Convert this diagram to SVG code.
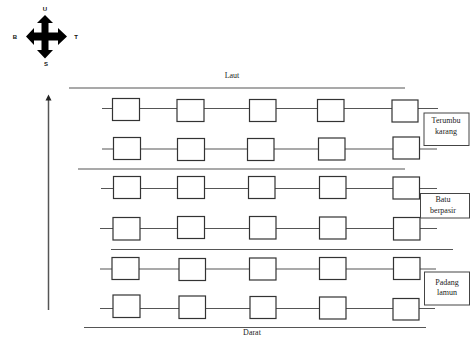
<svg xmlns="http://www.w3.org/2000/svg" width="470" height="338" viewBox="0 0 470 338">
  <style>
    .bg { fill: #ffffff; }
    .rule { stroke: #555555; stroke-width: 1.2; fill: none; }
    .link { stroke: #555555; stroke-width: 1.2; fill: none; }
    .plot { fill: #ffffff; stroke: #333333; stroke-width: 1.2; }
    .zone { fill: #ffffff; stroke: #444444; stroke-width: 1; }
    .txt { font-family: "Liberation Serif", "Times New Roman", serif; font-size: 8px; fill: #222222; text-anchor: middle; }
    .dir { font-family: "Liberation Sans", Arial, sans-serif; font-size: 6px; font-weight: bold; fill: #111111; text-anchor: middle; }
  </style>
  <rect class="bg" x="0" y="0" width="470" height="338"/>

  <!-- Compass rose -->
  <g id="compass">
    <path fill="#000000" d="M45,15 L53,23 L48.5,23 L48.5,32.5 L58,32.5 L58,28 L67,36.5 L58,45 L58,40.5 L48.5,40.5 L48.5,50 L53,50 L45,58.5 L37,50 L41.5,50 L41.5,40.5 L34,40.5 L34,45 L26,36.5 L34,28 L34,32.5 L41.5,32.5 L41.5,23 L37,23 Z"/>
    <text class="dir" x="45" y="11">U</text>
    <text class="dir" x="15" y="39">B</text>
    <text class="dir" x="76" y="39">T</text>
    <text class="dir" x="46" y="66">S</text>
  </g>

  <!-- Direction arrow toward the sea -->
  <g id="direction-arrow">
    <line x1="48.5" y1="310" x2="48.5" y2="99" stroke="#555555" stroke-width="1.5"/>
    <polygon points="48.5,94.5 45.5,100.5 51.5,100.5" fill="#222222"/>
  </g>

  <!-- Boundary lines -->
  <g id="boundaries">
    <line class="rule" x1="69" y1="88" x2="405" y2="88"/>
    <line class="rule" x1="78" y1="169" x2="405" y2="169"/>
    <line class="rule" x1="111" y1="249.5" x2="453" y2="249.5"/>
    <line class="rule" x1="84" y1="327.5" x2="426" y2="327.5"/>
  </g>
  <text class="txt" x="232" y="78">Laut</text>
  <text class="txt" x="252" y="335">Darat</text>

  <!-- Transect lines -->
  <g id="connectors">
    <line class="link" x1="102" y1="108.5" x2="438" y2="108.5"/>
    <line class="link" x1="102" y1="149" x2="437" y2="149"/>
    <line class="link" x1="101" y1="188.5" x2="437" y2="188.5"/>
    <line class="link" x1="100" y1="228.5" x2="437" y2="228.5"/>
    <line class="link" x1="100" y1="269" x2="436" y2="269"/>
    <line class="link" x1="100" y1="308.5" x2="435" y2="308.5"/>
  </g>

  <!-- Quadrat plots, row 1 -->
  <g id="plot-r1-c1"><rect class="plot" x="112.5" y="98.5" width="27" height="22"/></g>
  <g id="plot-r1-c2"><rect class="plot" x="177" y="99.5" width="27" height="22"/></g>
  <g id="plot-r1-c3"><rect class="plot" x="249.5" y="99.5" width="26.5" height="22"/></g>
  <g id="plot-r1-c4"><rect class="plot" x="317.5" y="99.5" width="26.5" height="22"/></g>
  <g id="plot-r1-c5"><rect class="plot" x="392" y="100" width="26" height="22"/></g>

  <!-- Row 2 -->
  <g id="plot-r2-c1"><rect class="plot" x="113.5" y="137.5" width="27" height="22"/></g>
  <g id="plot-r2-c2"><rect class="plot" x="177.5" y="138.5" width="27" height="22"/></g>
  <g id="plot-r2-c3"><rect class="plot" x="247.5" y="138.5" width="26.5" height="22"/></g>
  <g id="plot-r2-c4"><rect class="plot" x="318.5" y="138" width="26.5" height="22"/></g>
  <g id="plot-r2-c5"><rect class="plot" x="393" y="137" width="26.5" height="22"/></g>

  <!-- Row 3 -->
  <g id="plot-r3-c1"><rect class="plot" x="113.5" y="176.5" width="27" height="22"/></g>
  <g id="plot-r3-c2"><rect class="plot" x="177.5" y="176.5" width="27" height="22"/></g>
  <g id="plot-r3-c3"><rect class="plot" x="248.5" y="176.5" width="26.5" height="22"/></g>
  <g id="plot-r3-c4"><rect class="plot" x="319.5" y="176.5" width="26.5" height="22"/></g>
  <g id="plot-r3-c5"><rect class="plot" x="393" y="177" width="26.5" height="22"/></g>

  <!-- Row 4 -->
  <g id="plot-r4-c1"><rect class="plot" x="113" y="217.5" width="27" height="22.5"/></g>
  <g id="plot-r4-c2"><rect class="plot" x="177.5" y="216.5" width="27" height="22"/></g>
  <g id="plot-r4-c3"><rect class="plot" x="249.5" y="216.5" width="26.5" height="22.5"/></g>
  <g id="plot-r4-c4"><rect class="plot" x="319.5" y="217" width="26.5" height="22"/></g>
  <g id="plot-r4-c5"><rect class="plot" x="393.5" y="217.5" width="26.5" height="22.5"/></g>

  <!-- Row 5 -->
  <g id="plot-r5-c1"><rect class="plot" x="112" y="257.5" width="27" height="22"/></g>
  <g id="plot-r5-c2"><rect class="plot" x="179" y="258.5" width="26.5" height="22"/></g>
  <g id="plot-r5-c3"><rect class="plot" x="249.5" y="258" width="26.5" height="22"/></g>
  <g id="plot-r5-c4"><rect class="plot" x="319.5" y="257.5" width="26.5" height="22"/></g>
  <g id="plot-r5-c5"><rect class="plot" x="393.5" y="257.5" width="26.5" height="22"/></g>

  <!-- Row 6 -->
  <g id="plot-r6-c1"><rect class="plot" x="113" y="295" width="27" height="22.5"/></g>
  <g id="plot-r6-c2"><rect class="plot" x="179" y="296" width="26.5" height="22.5"/></g>
  <g id="plot-r6-c3"><rect class="plot" x="250" y="296.5" width="26" height="22"/></g>
  <g id="plot-r6-c4"><rect class="plot" x="319.5" y="297" width="26.5" height="22"/></g>
  <g id="plot-r6-c5"><rect class="plot" x="393" y="298.5" width="26" height="21.5"/></g>

  <!-- Habitat zone labels -->
  <g id="zone-terumbu">
    <rect class="zone" x="424" y="113" width="45" height="32.5"/>
    <text class="txt" x="446" y="123">Terumbu</text>
    <text class="txt" x="446" y="134">karang</text>
  </g>
  <g id="zone-batu">
    <rect class="zone" x="420.5" y="193.5" width="49" height="24.5"/>
    <text class="txt" x="443" y="202">Batu</text>
    <text class="txt" x="443" y="213">berpasir</text>
  </g>
  <g id="zone-padang">
    <rect class="zone" x="424.5" y="272" width="45" height="33"/>
    <text class="txt" x="447" y="285">Padang</text>
    <text class="txt" x="447" y="295">lamun</text>
  </g>
</svg>
